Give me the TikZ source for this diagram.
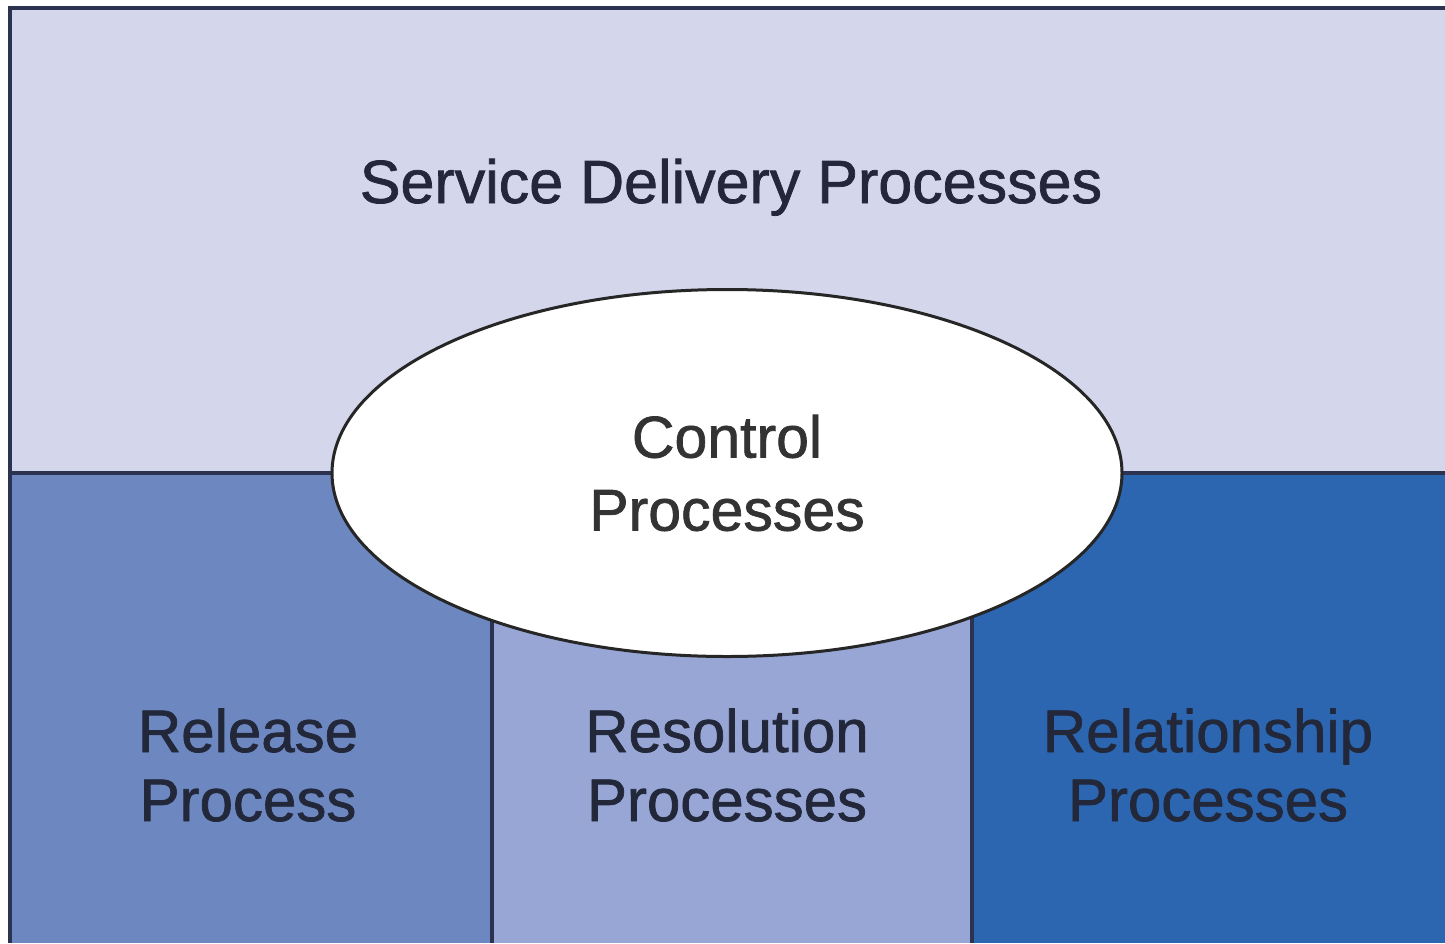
\documentclass[tikz,border=0pt]{standalone}
\usepackage{fontspec}
\setmainfont{Liberation Sans}
\newfontfamily\heavyfont[FakeBold=1.2]{Liberation Sans}
\usetikzlibrary{shapes.geometric}
\definecolor{topc}{HTML}{D4D7EB}
\definecolor{leftc}{HTML}{6D87C1}
\definecolor{midc}{HTML}{97A6D5}
\definecolor{rightc}{HTML}{2C66B0}
\definecolor{linec}{HTML}{2B3350}
\definecolor{txtc}{HTML}{22283A}
\definecolor{ctxt}{HTML}{333333}
\tikzset{
  lbl/.style={inner sep=0pt, align=center, text=txtc, font=\heavyfont\fontsize{60}{69}\selectfont},
  sep/.style={draw=linec, line width=3.5pt},
  ctrl/.style={ellipse, draw=black!85, line width=3pt, fill=white, inner sep=0pt,
    minimum width=790pt, minimum height=367pt, align=center, text=ctxt,
    font=\heavyfont\fontsize{59}{73}\selectfont}
}
\begin{document}
\begin{tikzpicture}[x=1pt,y=-1pt]
\useasboundingbox (0,0) rectangle (1445,943);
\fill[white] (0,0) rectangle (1445,943);
% regions
\fill[topc] (10,8) rectangle (1445,473);
\fill[leftc] (10,473) rectangle (492,943);
\fill[midc] (492,473) rectangle (972,943);
\fill[rightc] (972,473) rectangle (1445,943);
% named corner points
\coordinate (tl) at (10,8);
\coordinate (tr) at (1445,8);
\coordinate (bl) at (10,943);
\coordinate (ml) at (10,473);
\coordinate (mr) at (1445,473);
\coordinate (d1t) at (492,473);
\coordinate (d1b) at (492,943);
\coordinate (d2t) at (972,473);
\coordinate (d2b) at (972,943);
% outline and dividers
\draw[sep] (tr) -- (tl) -- (bl);
\draw[sep] (ml) -- (mr);
\draw[sep] (d1t) -- (d1b);
\draw[sep] (d2t) -- (d2b);
% labels
\node[lbl, anchor=base, font=\heavyfont\fontsize{61}{69}\selectfont] (sdp) at (731,203) {Service Delivery Processes};
\node[lbl, anchor=base] (rel) at (248,821) {Release\\Process};
\node[lbl, anchor=base] (res) at (727,821) {Resolution\\Processes};
\node[lbl, anchor=base] (rsh) at (1208,821) {Relationship\\Processes};
\node[ctrl] (ctl) at (727,473) {Control\\Processes};
\end{tikzpicture}
\end{document}
